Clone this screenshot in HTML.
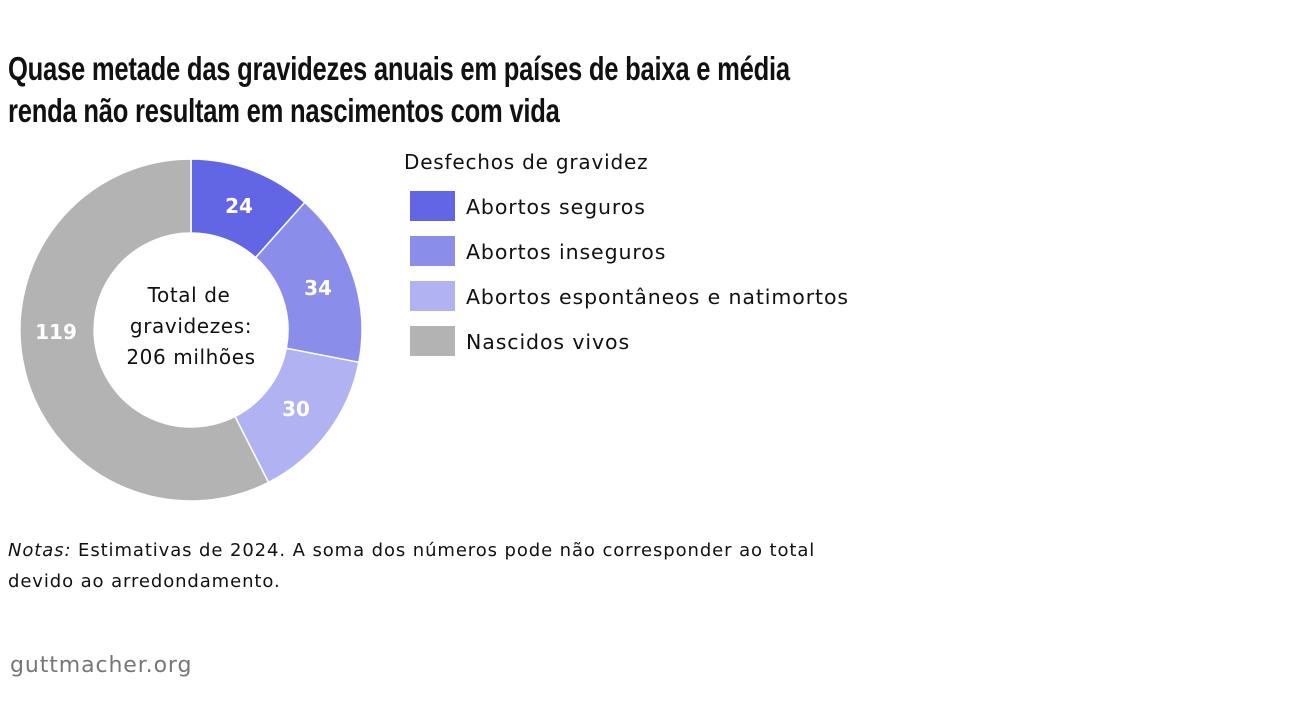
<!DOCTYPE html>
<html><head><meta charset="utf-8"><style>
body{margin:0;width:1300px;height:711px;background:#fff;font-family:"DejaVu Sans",sans-serif;color:#111;position:relative;overflow:hidden}
.t{position:absolute;left:8px;top:48px;font-family:"Liberation Sans",sans-serif;font-weight:bold;font-size:33px;line-height:42px;letter-spacing:-0.3px;color:#111;transform:scaleX(0.775);transform-origin:left;white-space:nowrap}
.lg{position:absolute;left:404px;font-size:20px;letter-spacing:0.8px}
.sw{position:absolute;left:410px;width:45px;height:30px}
.li{position:absolute;left:466px;font-size:20.5px;letter-spacing:0.9px}
.n{position:absolute;left:8px;top:535px;font-size:18px;line-height:31px;letter-spacing:0.9px}
.f{position:absolute;left:10px;top:653px;font-size:22px;color:#777;letter-spacing:0.9px}
</style></head><body>
<div class="t">Quase metade das gravidezes anuais em países de baixa e média<br>renda não resultam em nascimentos com vida</div>
<svg width="400" height="520" style="position:absolute;left:0;top:0">
<g stroke="#fff" stroke-width="1.5">
<path d="M191,159 A171,171 0 0 1 304.8,202.4 L255.6,257.6 A97,97 0 0 0 191,233 Z" fill="#6366e4"/>
<path d="M304.8,202.4 A171,171 0 0 1 358.9,362.3 L286.3,348.3 A97,97 0 0 0 255.6,257.6 Z" fill="#8a8dea"/>
<path d="M358.9,362.3 A171,171 0 0 1 268.5,482.4 L235,416.5 A97,97 0 0 0 286.3,348.3 Z" fill="#b0b2f2"/>
<path d="M268.5,482.4 A171,171 0 1 1 191,159 L191,233 A97,97 0 1 0 235,416.5 Z" fill="#b3b3b3"/>
</g>
<g fill="#fff" font-family="DejaVu Sans" font-weight="bold" font-size="20" text-anchor="middle">
<text x="239" y="213">24</text><text x="318" y="295">34</text><text x="296" y="416">30</text><text x="56" y="339">119</text>
</g>
<g fill="#111" font-family="DejaVu Sans" font-size="20" letter-spacing="0.6" text-anchor="middle">
<text x="189" y="302">Total de</text><text x="191" y="333">gravidezes:</text><text x="191" y="364">206 milhões</text>
</g>
</svg>
<div class="lg" style="top:150px">Desfechos de gravidez</div>
<div class="sw" style="top:191px;background:#6366e4"></div><div class="li" style="top:195px">Abortos seguros</div>
<div class="sw" style="top:236px;background:#8a8dea"></div><div class="li" style="top:240px">Abortos inseguros</div>
<div class="sw" style="top:281px;background:#b0b2f2"></div><div class="li" style="top:285px">Abortos espontâneos e natimortos</div>
<div class="sw" style="top:326px;background:#b3b3b3"></div><div class="li" style="top:330px">Nascidos vivos</div>
<div class="n"><i>Notas:</i> Estimativas de 2024. A soma dos números pode não corresponder ao total<br>devido ao arredondamento.</div>
<div class="f">guttmacher.org</div>
</body></html>
